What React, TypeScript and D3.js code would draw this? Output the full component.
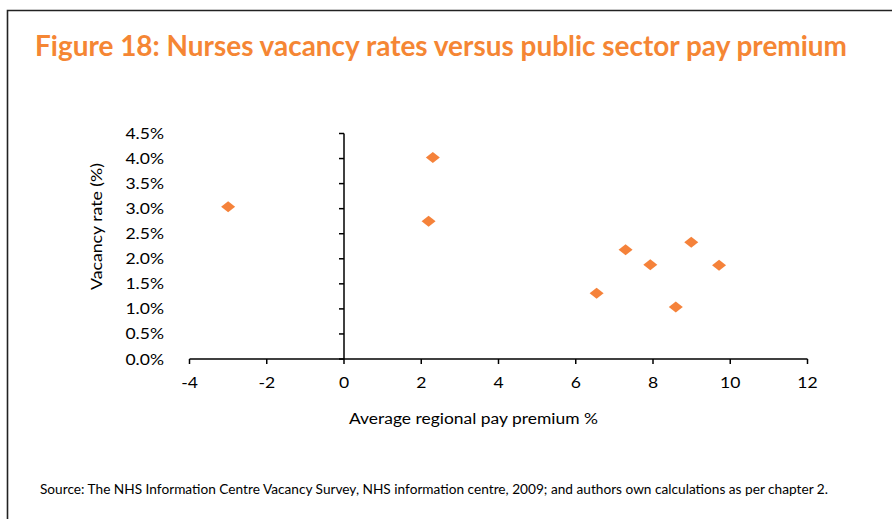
import React from "react";
import * as d3 from "d3";

const TITLE = "Figure 18: Nurses vacancy rates versus public sector pay premium";
const SOURCE = "Source: The NHS Information Centre Vacancy Survey, NHS information centre, 2009; and authors own calculations as per chapter 2.";
const X_LABEL = "Average regional pay premium %";
const Y_LABEL = "Vacancy rate (%)";

const payPremium = [-3.0, 2.3, 2.19, 6.54, 7.29, 7.93, 8.99, 8.59, 9.71];
const vacancyRate = [0.0304, 0.0402, 0.0275, 0.0131, 0.0218, 0.0188, 0.0233, 0.0104, 0.0187];

const xTicks = [-4, -2, 0, 2, 4, 6, 8, 10, 12];
const yTicks = [0, 0.005, 0.01, 0.015, 0.02, 0.025, 0.03, 0.035, 0.04, 0.045];

const W = 892;
const H = 519;
const ORANGE = "#F5823A";
const FONT = "Lato, 'Open Sans', sans-serif";
const SX = 1.17;

export default function App() {
  const x = d3.scaleLinear().domain([-4, 12]).range([189.5, 807.5]);
  const y = d3.scaleLinear().domain([0, 0.045]).range([359, 133.5]);
  const fmt = d3.format(".1%");
  const x0 = x(0);
  const y0 = y(0);
  const dw = 7, dh = 5.5;

  return (
    <svg
      width={W}
      height={H}
      style={{ position: "absolute", left: 0, top: 0, background: "#fff" }}
    >
      <rect x={0} y={0} width={W} height={H} fill="#fff" />
      <path d={`M7.5,${H + 5}V10.5H${W + 5}`} fill="none" stroke="#222" strokeWidth={1.6} />
      <text
        x={35}
        y={56}
        fill="#F58634"
        fontFamily={FONT}
        fontWeight={700}
        fontSize={28}
        textLength={812}
        lengthAdjust="spacingAndGlyphs"
      >
        {TITLE}
      </text>

      {/* x axis */}
      <line x1={x(-4)} x2={x(12)} y1={y0} y2={y0} stroke="#000" strokeWidth={1.5} />
      {xTicks.map((t) => (
        <g key={"xt" + t}>
          <line x1={x(t)} x2={x(t)} y1={y0} y2={y0 + 5} stroke="#000" strokeWidth={1.5} />
          <text
            transform={`translate(${x(t)},388) scale(${SX},1)`}
            textAnchor="middle"
            fontFamily={FONT}
            fontSize={15}
            fill="#000"
          >
            {t}
          </text>
        </g>
      ))}

      {/* y axis */}
      <line x1={x0} x2={x0} y1={y(0.045)} y2={y0} stroke="#000" strokeWidth={1.5} />
      {yTicks.map((t) => (
        <g key={"yt" + t}>
          <line x1={x0 - 5} x2={x0} y1={y(t)} y2={y(t)} stroke="#000" strokeWidth={1.5} />
          <text
            transform={`translate(164,${y(t) + 5.5}) scale(${SX},1)`}
            textAnchor="end"
            fontFamily={FONT}
            fontSize={15}
            fill="#000"
          >
            {fmt(t)}
          </text>
        </g>
      ))}

      <text
        x={349}
        y={424}
        fontFamily={FONT}
        fontSize={15.5}
        fill="#000"
        textLength={249}
        lengthAdjust="spacingAndGlyphs"
      >
        {X_LABEL}
      </text>
      <text
        transform={`translate(102,290) rotate(-90)`}
        fontFamily={FONT}
        fontSize={15.5}
        fill="#000"
        textLength={127}
        lengthAdjust="spacingAndGlyphs"
      >
        {Y_LABEL}
      </text>

      {payPremium.map((p, i) => {
        const cx = x(p);
        const cy = y(vacancyRate[i]);
        return (
          <path
            key={"pt" + i}
            d={`M${cx - dw},${cy}L${cx},${cy - dh}L${cx + dw},${cy}L${cx},${cy + dh}Z`}
            fill={ORANGE}
          />
        );
      })}

      <text
        x={40}
        y={494}
        fontFamily={FONT}
        fontSize={12.5}
        fill="#000"
        textLength={788}
        lengthAdjust="spacingAndGlyphs"
      >
        {SOURCE}
      </text>
    </svg>
  );
}
